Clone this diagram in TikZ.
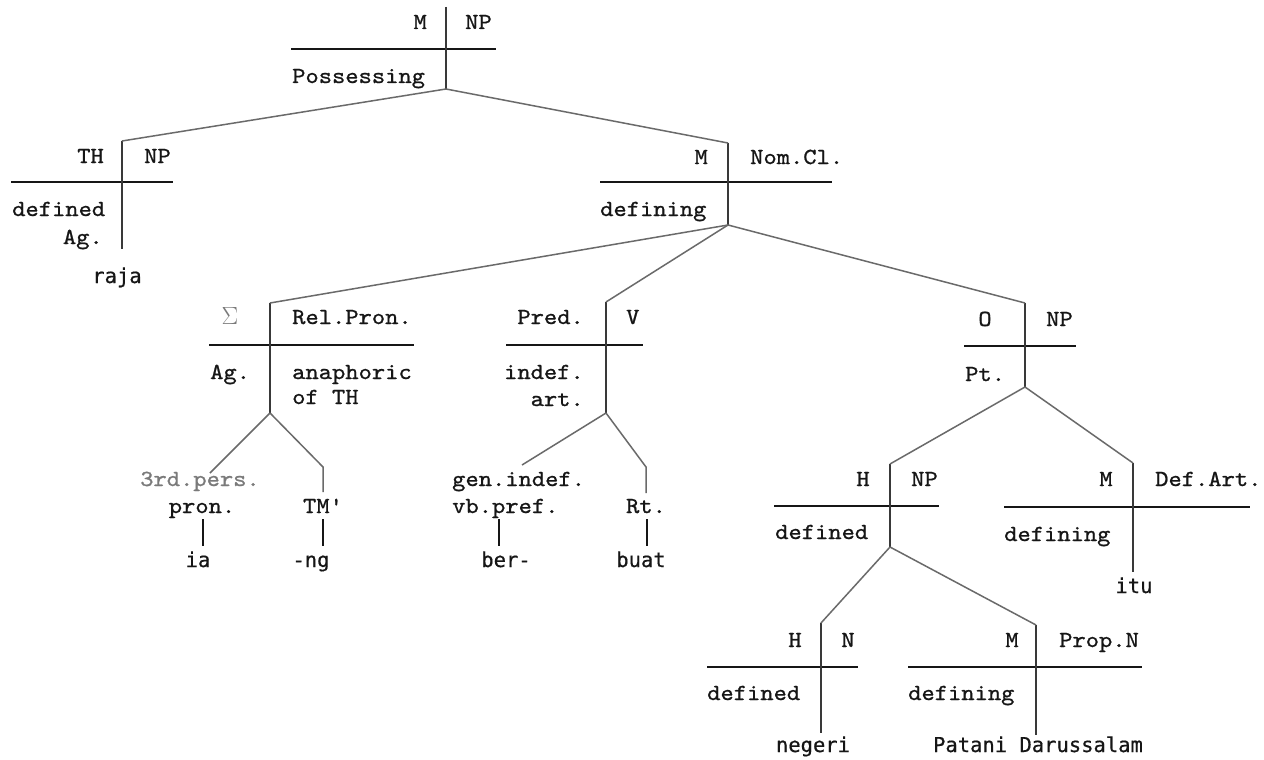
\documentclass[tikz,border=0pt]{standalone}
\usepackage{fontspec}
\newfontfamily\typew[FakeBold=0.9, FakeStretch=1.1]{lmmono10-regular.otf}
\newfontfamily\leaffamily[FakeBold=0.6]{DejaVu Sans Mono}
\definecolor{ink}{HTML}{161616}
\definecolor{branchgray}{HTML}{6A6A6A}
\definecolor{softgray}{HTML}{7A7A7A}
\tikzset{
  lab/.style={inner sep=0pt, text=ink, font=\typew\fontsize{23}{27}\selectfont},
  leaf/.style={inner sep=0pt, text=ink, font=\leaffamily\fontsize{20.5}{24}\selectfont},
  faint/.style={text=softgray},
  rule/.style={draw=ink, line width=2.2pt},
  stem/.style={draw=ink!85, line width=1.8pt},
  branch/.style={draw=branchgray, line width=1.5pt},
  tick/.style={draw=ink, line width=1.8pt},
}
% a function/class cross: name, stem x, stem top, rule y, stem bottom, rule left, rule right
\newcommand\xcross[7]{%
  \coordinate (#1-t) at (#2,#3);
  \coordinate (#1-c) at (#2,#4);
  \coordinate (#1-b) at (#2,#5);
  \coordinate (#1-l) at (#6,#4);
  \coordinate (#1-r) at (#7,#4);
  \draw[rule] (#1-l) -- (#1-r);
  \draw[stem] (#1-t) -- (#1-b);
}
\begin{document}
\begin{tikzpicture}[x=1pt,y=-1pt]
\useasboundingbox[fill=white] (0,0) rectangle (1264,760);

% ---- crosses ----
\xcross{root}{446}{7}{49}{89}{291}{496}
\xcross{th}{122}{141}{182}{249}{11}{173}
\xcross{nom}{728}{143}{182}{225}{600}{832}
\xcross{sig}{270}{303}{345}{413}{209}{414}
\xcross{pred}{606}{302}{345}{413}{506}{643}
\xcross{obj}{1025}{303}{346}{387}{964}{1076}
\xcross{hnp}{890}{464}{506}{547}{774}{939}
\xcross{def}{1133}{463}{507}{572}{1004}{1250}
\xcross{hn}{821}{623}{667}{733}{707}{858}
\xcross{prop}{1036}{625}{667}{735}{908}{1142}

% ---- cross labels ----
\node[lab, anchor=base east] (root-f) at (427,29) {M};
\node[lab, anchor=base west] (root-k) at (465,29) {NP};
\node[lab, anchor=base west] (root-s) at (292,83) {Possessing};

\node[lab, anchor=base east] (th-f) at (104,163) {TH};
\node[lab, anchor=base west] (th-k) at (144,163) {NP};
\node[lab, anchor=base west] (th-s) at (12,216) {defined};
\node[lab, anchor=base east] (th-s2) at (103,244) {Ag.};
\node[leaf, anchor=base] (raja) at (117,283) {raja};

\node[lab, anchor=base east] (nom-f) at (708,164) {M};
\node[lab, anchor=base west] (nom-k) at (750,164) {Nom.Cl.};
\node[lab, anchor=base west] (nom-s) at (600,216) {defining};

\node[lab, faint, anchor=base] (sig-f) at (230,324) {$\Sigma$};
\node[lab, anchor=base west] (sig-k) at (292,324) {Rel.Pron.};
\node[lab, anchor=base west] (sig-s) at (210,379) {Ag.};
\node[lab, anchor=base west] (sig-s2) at (292,379) {anaphoric};
\node[lab, anchor=base west] (sig-s3) at (292,404) {of TH};

\node[lab, anchor=base east] (pred-f) at (584,324) {Pred.};
\node[lab, anchor=base west] (pred-k) at (626,324) {V};
\node[lab, anchor=base east] (pred-s) at (584,379) {indef.};
\node[lab, anchor=base east] (pred-s2) at (584,406) {art.};

\node[lab, anchor=base] (obj-f) at (985,326) {O};
\node[lab, anchor=base west] (obj-k) at (1046,326) {NP};
\node[lab, anchor=base west] (obj-s) at (965,381) {Pt.};

\node[lab, anchor=base] (hnp-f) at (863,486) {H};
\node[lab, anchor=base west] (hnp-k) at (911,486) {NP};
\node[lab, anchor=base west] (hnp-s) at (775,539) {defined};

\node[lab, anchor=base] (def-f) at (1106,486) {M};
\node[lab, anchor=base west] (def-k) at (1155,486) {Def.Art.};
\node[lab, anchor=base west] (def-s) at (1004,541) {defining};
\node[leaf, anchor=base] (itu) at (1134,593) {itu};

\node[lab, anchor=base] (hn-f) at (795,647) {H};
\node[lab, anchor=base] (hn-k) at (848,647) {N};
\node[lab, anchor=base west] (hn-s) at (707,700) {defined};
\node[leaf, anchor=base] (negeri) at (813,752) {negeri};

\node[lab, anchor=base] (prop-f) at (1012,647) {M};
\node[lab, anchor=base west] (prop-k) at (1059,647) {Prop.N};
\node[lab, anchor=base west] (prop-s) at (908,700) {defining};
\node[leaf, anchor=base] (patani) at (1038,752) {Patani Darussalam};

% ---- morpheme-level labels ----
\node[lab, faint, anchor=base] (pers) at (200,486) {3rd.pers.};
\node[lab, anchor=base] (pron) at (202,513) {pron.};
\node[lab, anchor=base] (tm) at (323,513) {TM'};
\node[lab, anchor=base west] (gen) at (452,486) {gen.indef.};
\node[lab, anchor=base west] (vb) at (452,513) {vb.pref.};
\node[lab, anchor=base] (rt) at (646,513) {Rt.};

\node[leaf, anchor=base] (ia) at (198,567) {ia};
\node[leaf, anchor=base] (ng) at (311,567) {-ng};
\node[leaf, anchor=base] (ber) at (506,567) {ber-};
\node[leaf, anchor=base] (buat) at (641,567) {buat};

% ---- branch ends ----
\coordinate (pers-t) at (210,473);
\coordinate (tm-k) at (323,467);
\coordinate (tm-t) at (323,492);
\coordinate (gen-t) at (522,465);
\coordinate (rt-k) at (646,467);
\coordinate (rt-t) at (646,493);

\coordinate (pron-u) at (203,519);
\coordinate (pron-d) at (203,546);
\coordinate (tm-u) at (323,519);
\coordinate (tm-d) at (323,546);
\coordinate (vb-u) at (499,519);
\coordinate (vb-d) at (499,546);
\coordinate (rt-u) at (647,519);
\coordinate (rt-d) at (647,546);

% ---- branches ----
\draw[branch] (root-b) -- (th-t);
\draw[branch] (root-b) -- (nom-t);
\draw[branch] (nom-b) -- (sig-t);
\draw[branch] (nom-b) -- (pred-t);
\draw[branch] (nom-b) -- (obj-t);
\draw[branch] (sig-b) -- (pers-t);
\draw[branch] (sig-b) -- (tm-k) -- (tm-t);
\draw[branch] (pred-b) -- (gen-t);
\draw[branch] (pred-b) -- (rt-k) -- (rt-t);
\draw[branch] (obj-b) -- (hnp-t);
\draw[branch] (obj-b) -- (def-t);
\draw[branch] (hnp-b) -- (hn-t);
\draw[branch] (hnp-b) -- (prop-t);

% ---- short ticks to the word forms ----
\draw[tick] (pron-u) -- (pron-d);
\draw[tick] (tm-u) -- (tm-d);
\draw[tick] (vb-u) -- (vb-d);
\draw[tick] (rt-u) -- (rt-d);
\end{tikzpicture}
\end{document}
